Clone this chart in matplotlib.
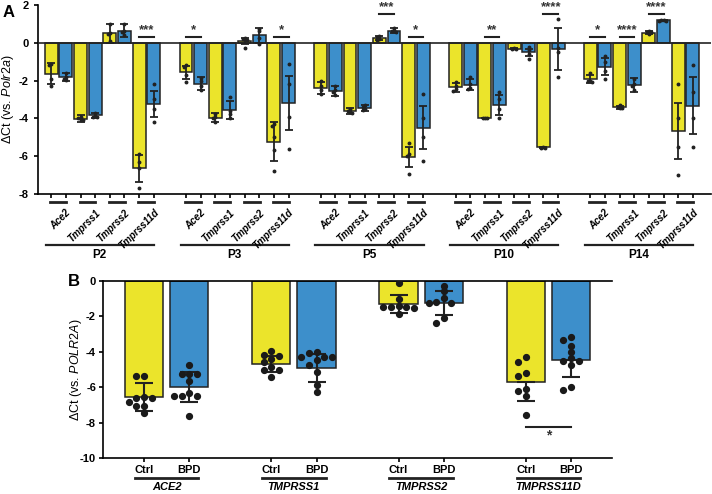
import numpy as np
import matplotlib
matplotlib.use("Agg")
import matplotlib.pyplot as plt
import matplotlib.transforms as mtransforms

plt.rcParams['font.family'] = ['Liberation Sans', 'DejaVu Sans']
plt.rcParams['mathtext.fontset'] = 'custom'
plt.rcParams['mathtext.rm'] = 'Liberation Sans'
plt.rcParams['mathtext.it'] = 'Liberation Sans:italic'

YEL = '#ebe42b'
BLU = '#3d8fcb'
EDGE = '#222222'

# ---- panel A data ----
ages = ['P2', 'P3', 'P5', 'P10', 'P14']
genes_a = ['Ace2', 'Tmprss1', 'Tmprss2', 'Tmprss11d']

mean_y = [[-1.63, -4.02, 0.51, -6.65],
          [-1.56, -3.96, 0.09, -5.23],
          [-2.37, -3.61, 0.25, -6.04],
          [-2.35, -3.98, -0.32, -5.54],
          [-1.91, -3.40, 0.54, -4.67]]
mean_b = [[-1.81, -3.84, 0.65, -3.23],
          [-2.16, -3.56, 0.39, -3.19],
          [-2.54, -3.44, 0.65, -4.49],
          [-2.21, -3.28, -0.51, -0.32],
          [-1.28, -2.23, 1.18, -3.32]]
sd_y = [[0.57, 0.18, 0.50, 0.72],
        [0.35, 0.23, 0.15, 1.04],
        [0.32, 0.15, 0.10, 0.55],
        [0.23, 0.02, 0.03, 0.05],
        [0.20, 0.08, 0.10, 1.47]]
sd_b = [[0.20, 0.15, 0.35, 0.67],
        [0.33, 0.48, 0.38, 1.45],
        [0.25, 0.15, 0.15, 1.14],
        [0.30, 0.52, 0.20, 1.10],
        [0.45, 0.35, 0.05, 1.53]]
pts_y = [[[-1.1, -1.15, -1.9, -2.3], [-3.9, -4.0, -4.1, -4.1], [1.0, 0.45, 0.1, 0.5], [-5.9, -6.3, -6.6, -7.7]],
         [[-1.2, -1.3, -1.7, -2.1], [-3.75, -3.9, -4.0, -4.2], [0.25, 0.15, 0.2, -0.25], [-4.3, -4.4, -5.0, -5.65, -6.8]],
         [[-2.0, -2.3, -2.5, -2.7], [-3.5, -3.6, -3.65, -3.7], [0.35, 0.3, 0.2, 0.15], [-5.3, -5.9, -6.0, -6.96]],
         [[-2.1, -2.3, -2.45, -2.55], [-3.96, -3.98, -4.0], [-0.3, -0.32, -0.34], [-5.5, -5.55, -5.57]],
         [[-1.6, -2.0, -2.0, -2.05], [-3.3, -3.4, -3.45, -3.45], [0.6, 0.55, 0.45, 0.55], [-2.2, -4.0, -5.5, -7.0]]]
pts_b = [[[-1.6, -1.8, -1.9, -1.95], [-3.7, -3.85, -3.9, -3.9], [1.0, 0.55, 0.4, 0.65], [-2.2, -3.0, -3.5, -4.2]],
         [[-1.85, -2.0, -2.3, -2.5], [-2.85, -3.6, -3.75, -4.0], [0.75, 0.6, -0.05, 0.25], [-1.1, -2.2, -3.9, -5.6]],
         [[-2.3, -2.5, -2.6, -2.75], [-3.3, -3.4, -3.5, -3.55], [0.8, 0.55, 0.6, 0.65], [-2.7, -4.0, -5.0, -6.25]],
         [[-1.8, -2.2, -2.4, -2.45], [-2.6, -3.0, -3.5, -4.0], [-0.2, -0.4, -0.6, -0.85], [1.25, -0.3, -0.5, -1.8]],
         [[-0.7, -1.0, -1.5, -1.9], [-1.9, -2.2, -2.3, -2.5], [1.2, 1.15, 1.2, 1.15], [-1.15, -2.6, -4.0, -5.5]]]
# (age index, gene index, stars, level)
sig_a = [(0, 3, '***', 'lo'), (1, 0, '*', 'lo'), (1, 3, '*', 'lo'),
         (2, 2, '***', 'hi'), (2, 3, '*', 'lo'), (3, 1, '**', 'lo'),
         (3, 3, '****', 'hi'), (4, 0, '*', 'lo'), (4, 1, '****', 'lo'),
         (4, 2, '****', 'hi')]
sig_levels = {'lo': 0.33, 'hi': 1.53}

# ---- panel B data ----
genes_b = ['ACE2', 'TMPRSS1', 'TMPRSS2', 'TMPRSS11D']
groups_b = ['Ctrl', 'BPD']
ctrl_mean = [-6.56, -4.70, -1.30, -5.73]
bpd_mean = [-6.00, -4.92, -1.26, -4.45]
ctrl_sd = [0.78, 0.47, 0.50, 1.07]
bpd_sd = [0.86, 0.81, 0.68, 1.00]
ctrl_pts = [[-5.36, -5.36, -6.6, -6.6, -6.56, -6.84, -7.09, -7.09, -7.46],
            [-3.97, -4.17, -4.25, -4.4, -4.57, -4.87, -5.02, -5.02, -5.43],
            [-0.13, -1.0, -1.4, -1.45, -1.45, -1.5, -1.45, -1.84],
            [-4.3, -4.55, -5.2, -5.39, -6.1, -6.22, -6.48, -7.55]]
bpd_pts = [[-4.76, -5.28, -5.28, -5.28, -5.64, -6.33, -6.48, -6.48, -6.48, -7.61],
           [-4.04, -4.06, -4.3, -4.3, -4.3, -4.45, -4.73, -5.13, -5.9, -6.3],
           [-0.26, -0.56, -0.98, -1.18, -1.22, -1.22, -2.09, -2.35],
           [-3.14, -3.36, -3.68, -4.0, -4.36, -4.51, -4.53, -4.72, -6.0, -6.18]]
# TMPRSS11D error bars only show the lower half
upper_shown = [True, True, True, False]


def swarm(vals, dy, dx):
    order = np.argsort(vals)[::-1]
    placed = []
    offs = np.zeros(len(vals))
    for i in order:
        v = vals[i]
        for k in [0, -1, 1, -2, 2, -3, 3, -4, 4]:
            o = k * dx
            if all(abs(v - pv) > dy or abs(o - po) > dx * 0.9 for pv, po in placed):
                break
        offs[i] = o
        placed.append((v, o))
    return offs


fig = plt.figure(figsize=(7.12, 4.94), dpi=100)

# ================= Panel A =================
axA = fig.add_axes([0.0534, 0.6073, 0.9452, 0.3826])
gstep = 4.6
off = 0.25
w = 0.44
tick_x = []
for g in range(len(ages)):
    for i in range(len(genes_a)):
        xc = g * gstep + i
        for sgn, m, s, pts, col in [(-1, mean_y, sd_y, pts_y, YEL), (1, mean_b, sd_b, pts_b, BLU)]:
            x = xc + sgn * off
            tick_x.append(x)
            axA.bar(x, m[g][i], width=w, color=col, edgecolor=EDGE, linewidth=1.1, zorder=2)
            p = np.array(pts[g][i])
            axA.plot(x + swarm(p, 0.12, 0.07), p, 'o', color='#222222', ms=1.8, zorder=4)
            axA.errorbar(x, m[g][i], yerr=s[g][i], color='#222222', elinewidth=1.3,
                         capsize=3, capthick=1.3, zorder=3)

for g, i, st, lev in sig_a:
    xc = g * gstep + i
    yv = sig_levels[lev]
    axA.plot([xc - off, xc + off], [yv, yv], color='#222222', lw=1.5, clip_on=False)
    axA.text(xc, yv + 0.03, st, ha='center', va='bottom', fontsize=9.5, fontweight='bold',
             color='#333333')

axA.axhline(0, color='#222222', lw=1.2, zorder=5)
axA.set_ylim(-8, 2)
axA.set_xlim(-0.70, 22.27)
axA.set_yticks([2, 0, -2, -4, -6, -8])
axA.set_yticklabels(['2', '0', '-2', '-4', '-6', '-8'], fontsize=8, fontweight='bold')
axA.set_xticks(tick_x)
axA.set_xticklabels([])
axA.tick_params(axis='both', direction='out', length=3, width=1.2)
for sp in ['top', 'right']:
    axA.spines[sp].set_visible(False)
for sp in ['left', 'bottom']:
    axA.spines[sp].set_linewidth(1.2)
axA.set_ylabel(r'$\Delta$Ct (vs. $\mathit{Polr2a}$)', fontsize=9, labelpad=2)

trA = mtransforms.blended_transform_factory(axA.transData, axA.transAxes)
for g, age in enumerate(ages):
    for i, gene in enumerate(genes_a):
        xc = g * gstep + i
        axA.plot([xc - 0.28, xc + 0.26], [-0.042, -0.042], transform=trA, color='#222222',
                 lw=2, clip_on=False)
        axA.text(xc + 0.24, -0.072, gene, transform=trA, rotation=45, rotation_mode='anchor',
                 ha='right', va='top', fontsize=7.1, fontstyle='italic', fontweight='bold')
    x0 = g * gstep
    axA.plot([x0 - 0.43, x0 + 3.26], [-0.27, -0.27], transform=trA, color='#222222',
             lw=1.6, clip_on=False)
    axA.text(x0 + 1.41, -0.325, age, transform=trA, ha='center', va='center',
             fontsize=8.5, fontweight='bold')

fig.text(0.003, 0.99, 'A', fontsize=12, fontweight='bold', va='top')

# ================= Panel B =================
axB = fig.add_axes([0.1447, 0.0729, 0.7149, 0.3583])
offB = 0.178
wB = 0.30
tickB = []
tickB_lab = []
for i, gene in enumerate(genes_b):
    for sgn, m, s, pts, col, lab in [(-1, ctrl_mean, ctrl_sd, ctrl_pts, YEL, groups_b[0]),
                                     (1, bpd_mean, bpd_sd, bpd_pts, BLU, groups_b[1])]:
        x = i + sgn * offB
        tickB.append(x)
        tickB_lab.append(lab)
        axB.bar(x, m[i], width=wB, color=col, edgecolor=EDGE, linewidth=1.1, zorder=2)
        if upper_shown[i]:
            yerr = s[i]
        else:
            yerr = [[s[i]], [0]]
        axB.errorbar(x, m[i], yerr=yerr, color='#222222', elinewidth=1.5,
                     capsize=6.5, capthick=1.5, zorder=3)
        p = np.array(pts[i])
        axB.plot(x + swarm(p, 0.3, 0.06), p, 'o', color='#1a1a1a', ms=4.2, zorder=4)

# significance TMPRSS11D
axB.plot([3 - offB, 3 + offB], [-8.25, -8.25], color='#222222', lw=1.5)
axB.text(3, -8.35, '*', ha='center', va='top', fontsize=10, fontweight='bold', color='#333333')

axB.set_ylim(-10, 0)
axB.set_xlim(-0.5, 3.5)
axB.set_yticks([0, -2, -4, -6, -8, -10])
axB.set_yticklabels(['0', '-2', '-4', '-6', '-8', '-10'], fontsize=8, fontweight='bold')
axB.set_xticks(tickB)
axB.set_xticklabels(tickB_lab, fontsize=8, fontweight='bold')
axB.tick_params(axis='both', direction='out', length=3, width=1.2, pad=2)
axB.spines['right'].set_visible(False)
for sp in ['left', 'bottom', 'top']:
    axB.spines[sp].set_linewidth(1.2)
axB.set_ylabel(r'$\Delta$Ct (vs. $\mathit{POLR2A}$)', fontsize=9)
axB.yaxis.set_label_coords(-0.038, 0.5)

trB = mtransforms.blended_transform_factory(axB.transData, axB.transAxes)
for i, gene in enumerate(genes_b):
    axB.plot([i - 0.25, i + 0.25], [-0.113, -0.113], transform=trB, color='#222222',
             lw=2, clip_on=False)
    axB.text(i, -0.165, gene, transform=trB, ha='center', va='center', fontsize=8,
             fontstyle='italic', fontweight='bold')

fig.text(0.095, 0.43, 'B', fontsize=12, fontweight='bold', va='center')

fig.savefig('out.png', dpi=100)
